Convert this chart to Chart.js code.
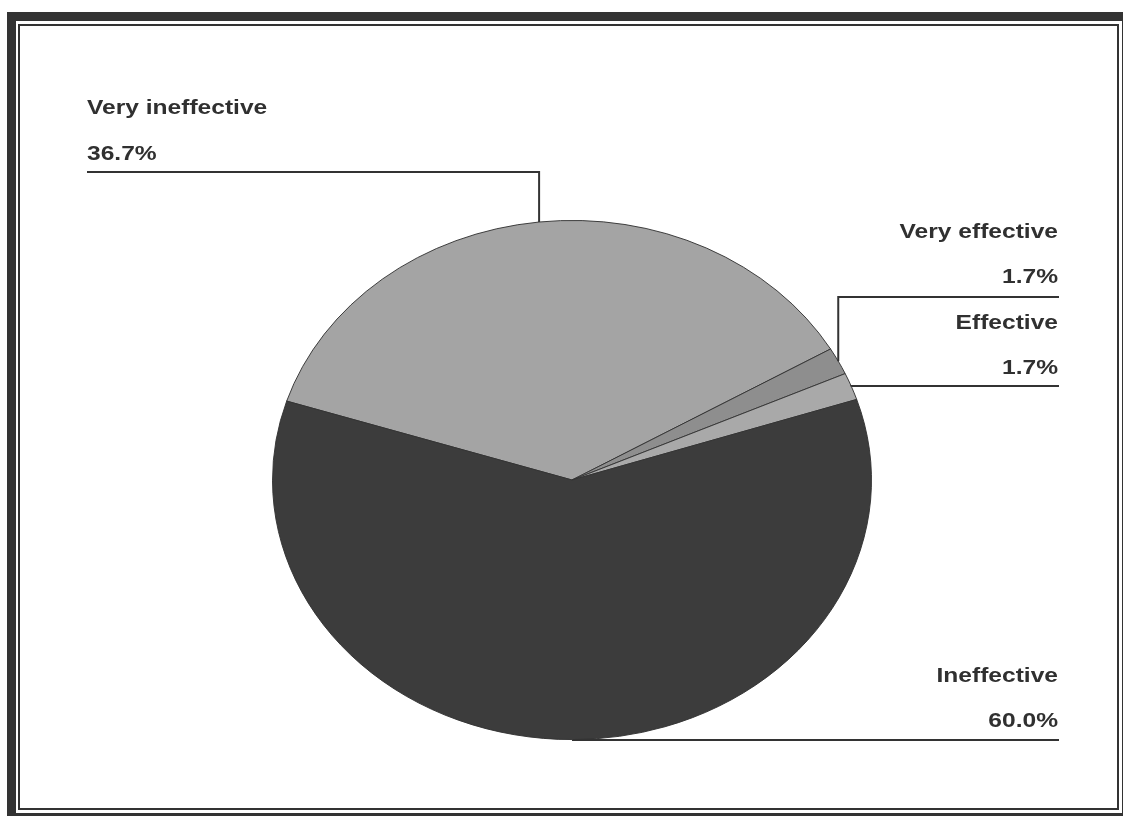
<!DOCTYPE html>
<html>
<head>
<meta charset="utf-8">
<title>Effectiveness pie</title>
<script src="https://cdn.jsdelivr.net/npm/chart.js@4.4.0/dist/chart.umd.min.js"></script>
<style>
  html, body { margin:0; padding:0; background:#fff; }
  #wrap { position:relative; width:1123px; height:816px; overflow:hidden; }
  #chartBox { position:absolute; left:0; top:0; width:1123px; height:816px; }
  .frame { position:absolute; box-sizing:border-box; pointer-events:none; }
  #outer { left:7px; top:12px; width:1124px; height:810px; border:9px solid #333; }
  #inner { left:18px; top:24px; width:1101px; height:786px; border:2px solid #333; }
</style>
</head>
<body>
<div id="wrap">
  <div id="chartBox"><canvas id="pieChart"></canvas></div>
  <div class="frame" id="outer"></div>
  <div class="frame" id="inner"></div>
</div>
<script>
// data
const categories = ['Very ineffective', 'Very effective', 'Effective', 'Ineffective'];
const percents = [36.7, 1.7, 1.7, 60.0];
const pctLabels = ['36.7%', '1.7%', '1.7%', '60.0%'];
const sliceColors = ['#a4a4a4', '#8e8e8e', '#a9a9a9', '#3c3c3c'];

// where each label sits (text anchor x, name baseline, pct baseline, leader line y, line end x)
const labelLayout = [
  {align:'left',  x:87,   nameY:114, pctY:160, lineY:172, endX:87},
  {align:'right', x:1058, nameY:238, pctY:283, lineY:297, endX:1059},
  {align:'right', x:1058, nameY:329, pctY:374, lineY:386, endX:1059},
  {align:'right', x:1058, nameY:682, pctY:727, lineY:740, endX:1059}
];

const squash = 260 / 300;   // pie is drawn as an ellipse

function ellipseCenter(chart){
  const arc = chart.getDatasetMeta(0).data[0];
  return {x: arc.x, y: arc.y};
}

// squash the pie vertically
const ellipsePlugin = {
  id: 'ellipse',
  beforeDatasetsDraw(chart){
    const c = ellipseCenter(chart), ctx = chart.ctx;
    ctx.save();
    ctx.translate(c.x, c.y);
    ctx.scale(1, squash);
    ctx.translate(-c.x, -c.y);
  },
  afterDatasetsDraw(chart){
    chart.ctx.restore();
  }
};

// labels with leader lines
const labelPlugin = {
  id: 'pieLabels',
  afterDraw(chart){
    const ctx = chart.ctx;
    const arcs = chart.getDatasetMeta(0).data;
    ctx.save();
    ctx.strokeStyle = '#333';
    ctx.lineWidth = 2;
    ctx.fillStyle = '#303030';
    ctx.font = 'bold 21px "Liberation Sans", Arial, sans-serif';
    arcs.forEach((arc, i) => {
      const p = arc.getProps(['x','y','startAngle','endAngle','outerRadius'], true);
      const mid = (p.startAngle + p.endAngle) / 2;
      const ex = p.x + Math.cos(mid) * p.outerRadius;
      const ey = p.y + Math.sin(mid) * p.outerRadius * squash;
      const L = labelLayout[i];
      ctx.beginPath();
      ctx.moveTo(ex, ey);
      ctx.lineTo(ex, L.lineY);
      ctx.lineTo(L.endX, L.lineY);
      ctx.stroke();
      ctx.textAlign = L.align;
      ctx.textBaseline = 'alphabetic';
      [[categories[i], L.nameY], [pctLabels[i], L.pctY]].forEach(([txt, by]) => {
        ctx.save();
        ctx.translate(L.x, by);
        ctx.scale(1.17, 1);
        ctx.fillText(txt, 0, 0);
        ctx.restore();
      });
    });
    ctx.restore();
  }
};

const ctx = document.getElementById('pieChart').getContext('2d');
new Chart(ctx, {
  type: 'pie',
  data: {
    labels: categories,
    datasets: [{
      data: percents,
      backgroundColor: sliceColors,
      borderColor: '#333',
      borderWidth: 1
    }]
  },
  options: {
    responsive: true,
    maintainAspectRatio: false,
    animation: false,
    rotation: -72.3,
    layout: {padding: {left:272, right:251, top:180, bottom:36}},
    plugins: {legend:{display:false}, tooltip:{enabled:false}}
  },
  plugins: [ellipsePlugin, labelPlugin]
});
</script>
</body>
</html>
